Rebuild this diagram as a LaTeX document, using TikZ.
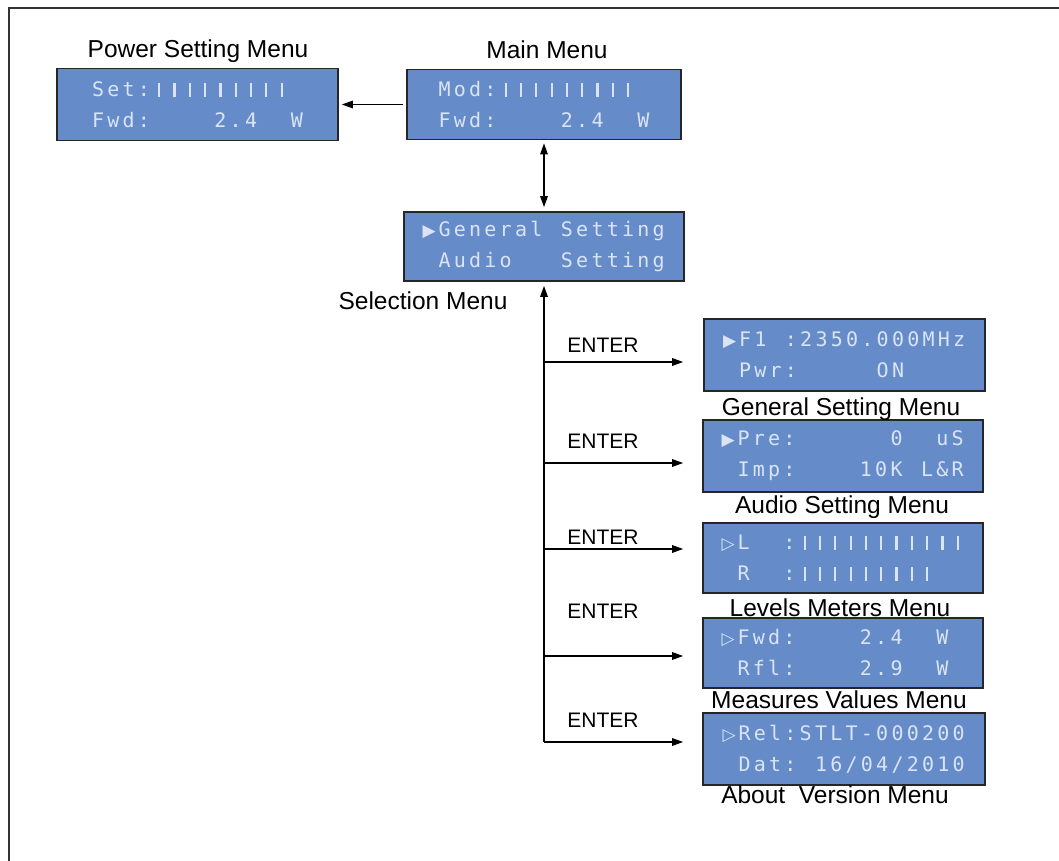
\documentclass[tikz,border=0pt]{standalone}
\usepackage{fontspec}
\setmainfont{Liberation Sans}
\newfontfamily\lcdmono{DejaVu Sans Mono}
\newfontfamily\lcdsymfont{DejaVu Sans}
\usetikzlibrary{arrows.meta}

\definecolor{lcdblue}{RGB}{101,140,201}
\definecolor{lcdtext}{RGB}{218,228,245}

% one LCD row: every token goes in its own cell, ~ is a blank cell
\makeatletter
\newlength\lcdpitch \setlength\lcdpitch{15.3pt}
\def\lcd@stop{\@nil}
\def\lcdrow#1{\lcd@row#1\@nil}
\def\lcd@row#1{\def\lcd@tmp{#1}%
  \ifx\lcd@tmp\lcd@stop\else\makebox[\lcdpitch][c]{#1}\expandafter\lcd@row\fi}
\makeatother
\newcommand\lcdbar{\rule[-0.5pt]{2.2pt}{14pt}}
\newcommand\lcdsel{{\lcdsymfont\fontsize{17}{17}\selectfont ▶}}
\newcommand\lcdcur{{\lcdsymfont\fontsize{17}{17}\selectfont ▷}}

\begin{document}
\begin{tikzpicture}[x=1pt,y=-1pt,>={Triangle[length=11pt,width=7.5pt]},line width=1.4pt,
  lcd/.style={draw=black!85,line width=1.6pt,fill=lcdblue,text=lcdtext,
    font=\lcdmono\fontsize{20}{31}\selectfont,align=left,inner sep=0pt,
    minimum width=281pt,minimum height=72pt},
  menutitle/.style={font=\fontsize{24.5}{28}\selectfont,anchor=base},
  enter/.style={font=\fontsize{21}{24}\selectfont,anchor=base}]
\useasboundingbox (0,0) rectangle (1059,861);
\draw[line width=2pt,black!80] (1059,8) -- (9,8) -- (9,861);

% top row
\node[lcd] (power) at (197.5,104.5)
  {\lcdrow{~Set:\lcdbar\lcdbar\lcdbar\lcdbar\lcdbar\lcdbar\lcdbar\lcdbar\lcdbar~~}\\
   \lcdrow{~Fwd:~~~~2.4~~W~}};
\node[lcd,minimum width=274pt,minimum height=70pt] (main) at (544,104.5)
  {\lcdrow{~Mod:\lcdbar\lcdbar\lcdbar\lcdbar\lcdbar\lcdbar\lcdbar\lcdbar\lcdbar~~}\\
   \lcdrow{~Fwd:~~~~2.4~~W~}};
\node[menutitle] (powerlbl) at (198,58) {Power Setting Menu};
\node[menutitle] (mainlbl) at (547,59) {Main Menu};

\node[lcd,minimum width=280pt,minimum height=69pt] (sel) at (544,246.5)
  {\lcdrow{\lcdsel General~Setting}\\
   \lcdrow{~Audio~~~Setting}};
\node[menutitle] (sellbl) at (423,309) {Selection Menu};

% sub menus
\node[lcd] (gen) at (844.5,355)
  {\lcdrow{\lcdsel F1~:2350.000MHz}\\
   \lcdrow{~Pwr:~~~~~ON~~~~}};
\node[lcd,minimum width=280pt] (aud) at (843,456)
  {\lcdrow{\lcdsel Pre:~~~~~~0~~uS}\\
   \lcdrow{~Imp:~~~~10K~L\&R}};
\node[lcd,minimum width=280pt,minimum height=70pt] (lev) at (843,558)
  {\lcdrow{\lcdcur L~~:\lcdbar\lcdbar\lcdbar\lcdbar\lcdbar\lcdbar\lcdbar\lcdbar\lcdbar\lcdbar\lcdbar}\\
   \lcdrow{~R~~:\lcdbar\lcdbar\lcdbar\lcdbar\lcdbar\lcdbar\lcdbar\lcdbar\lcdbar~~}};
\node[lcd,minimum width=280pt,minimum height=70pt] (meas) at (843,653)
  {\lcdrow{\lcdcur Fwd:~~~~2.4~~W~}\\
   \lcdrow{~Rfl:~~~~2.9~~W~}};
\node[lcd,minimum width=282pt] (about) at (844,749)
  {\lcdrow{\lcdcur Rel:STLT-000200}\\
   \lcdrow{~Dat:~16/04/2010}};

\node[menutitle] (genlbl) at (841,415) {General Setting Menu};
\node[menutitle] (audlbl) at (842,513) {Audio Setting Menu};
\node[menutitle] (levlbl) at (840,616) {Levels Meters Menu};
\node[menutitle] (measlbl) at (839,708) {Measures Values Menu};
\node[menutitle] (aboutlbl) at (835,803) {About\ \ Version Menu};

\node[enter] (ent1) at (603,352) {ENTER};
\node[enter] (ent2) at (603,448) {ENTER};
\node[enter] (ent3) at (603,544) {ENTER};
\node[enter] (ent4) at (603,618) {ENTER};
\node[enter] (ent5) at (603,727) {ENTER};

% connectors
\draw[->,shorten <=3pt,shorten >=3pt] (main.west) -- (power.east);
\draw[<->,shorten <=3pt,shorten >=4pt] (main.south) -- (sel.north);

\coordinate (fork) at (544,742);
\coordinate (b1) at (544,362);
\coordinate (b2) at (544,463);
\coordinate (b3) at (544,549);
\coordinate (b4) at (544,656);
\draw[->,shorten >=4pt] (fork) -- (sel.south);
\draw[->,shorten >=20pt] (b1) -- (b1 -| gen.west);
\draw[->,shorten >=19pt] (b2) -- (b2 -| aud.west);
\draw[->,shorten >=19pt] (b3) -- (b3 -| lev.west);
\draw[->,shorten >=19pt] (b4) -- (b4 -| meas.west);
\draw[->,shorten >=19pt] (fork) -- (fork -| about.west);
\end{tikzpicture}
\end{document}
